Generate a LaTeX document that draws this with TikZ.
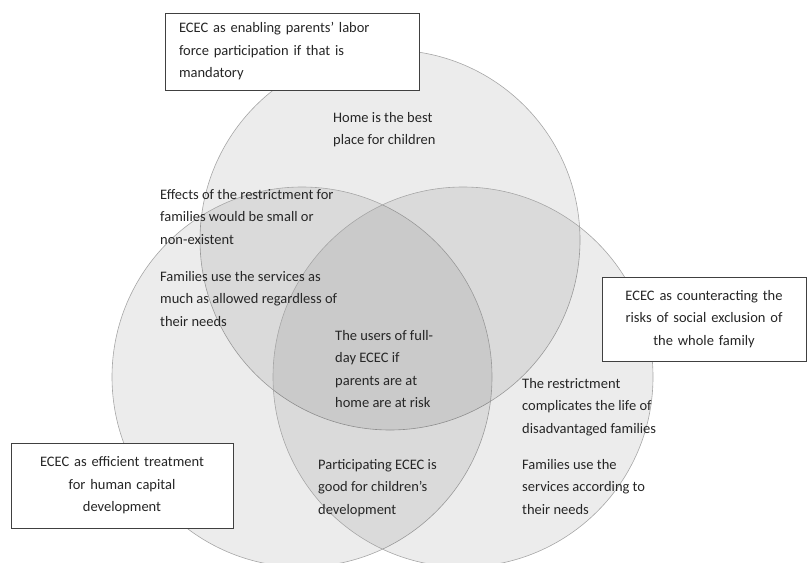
\documentclass[tikz,border=0pt]{standalone}
\usepackage{fontspec}
\setmainfont{Carlito}
\usepackage{tikz}
\usetikzlibrary{backgrounds}
\definecolor{txtgray}{HTML}{262626}
\definecolor{rimgray}{HTML}{A6A6A6}
\definecolor{boxgray}{HTML}{404040}
\tikzset{
  venn/.style={circle, draw=rimgray, line width=0.6bp, fill=black, fill opacity=0.075,
    minimum size=380bp, inner sep=0pt},
  lbl/.style={anchor=north west, inner sep=0pt, align=left, text=txtgray,
    font=\fontsize{14.5bp}{22.5bp}\selectfont},
  frame/.style={draw=boxgray, line width=0.9bp, fill=white, text=txtgray,
    font=\fontsize{14.5bp}{22.5bp}\selectfont, inner sep=0pt}
}
\begin{document}
\begin{tikzpicture}[x=1bp,y=-1bp]
\useasboundingbox (0,0) rectangle (808,563);
% the three circles
\node[venn] (ctop) at (390,240) {};
\node[venn] (cleft) at (302,377) {};
\node[venn] (cright) at (463,377) {};
% texts inside the circles
\node[lbl] (home) at (333,112) {Home is the best\\place for children};
\node[lbl] (effects) at (160,189) {Effects of the restrictment for\\families would be small or\\non-existent};
\node[lbl] (usemax) at (160,271) {Families use the services as\\much as allowed regardless of\\their needs};
\node[lbl] (users) at (335,330) {The users of full-\\day ECEC if\\parents are at\\home are at risk};
\node[lbl] (complic) at (522,378) {The restrictment\\complicates the life of\\disadvantaged families};
\node[lbl] (useneed) at (522,459) {Families use the\\services according to\\their needs};
\node[lbl] (partic) at (318,459) {Participating ECEC is\\good for children's\\development};
% the three boxes
\node[frame, minimum width=254bp, minimum height=77bp, text width=226bp, align=left]
  (labor) at (292,51.5) {ECEC as enabling parents' labor\\force participation if that is\\mandatory};
\node[frame, minimum width=204bp, minimum height=84bp, text width=190bp, align=center]
  (social) at (704,319) {ECEC as counteracting the\\risks of social exclusion of\\the whole family};
\node[frame, minimum width=222bp, minimum height=85bp, text width=208bp, align=center]
  (human) at (122,485.5) {ECEC as efficient treatment\\for human capital\\development};
\end{tikzpicture}
\end{document}
